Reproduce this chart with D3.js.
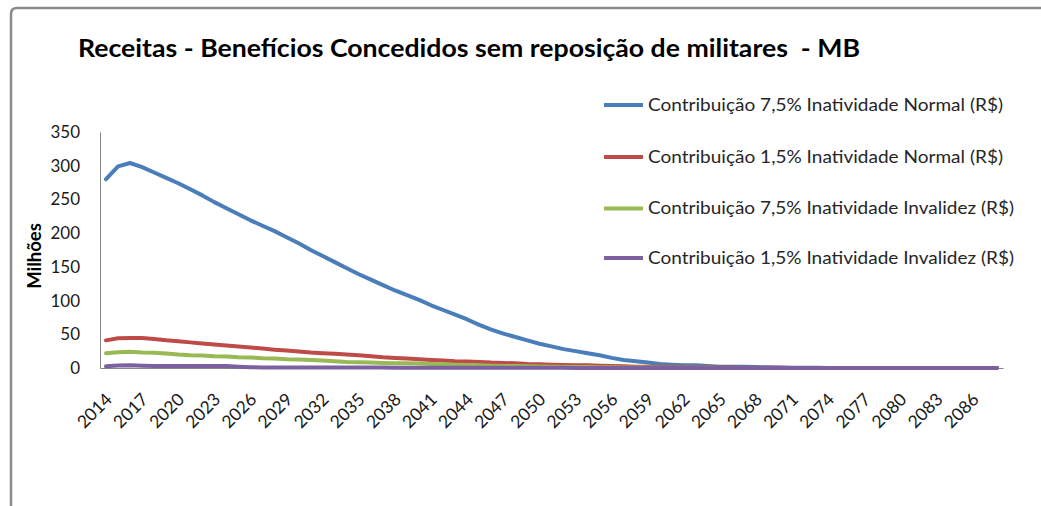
<!DOCTYPE html>
<html>
<head>
<meta charset="utf-8">
<script src="https://cdn.jsdelivr.net/npm/d3@7"></script>
<style>
  html, body { margin: 0; padding: 0; background: #fff; }
  svg { display: block; }
  text { font-family: Lato, "Open Sans", "Liberation Sans", sans-serif; }
</style>
</head>
<body>
<svg id="chart" width="1041" height="506"></svg>
<script>
// Years on the category axis
const years = d3.range(2014, 2089);

// Receitas (milhões de R$) por série
const contrib75Normal = [
  280, 299, 304, 298, 290, 282, 274, 265, 256, 246,
  237, 228, 219, 211, 203, 194, 185, 175, 166, 157,
  148, 139, 131, 123, 115, 108, 101, 93, 86, 79,
  72, 64, 57, 51, 46, 41, 36, 32, 28, 25,
  22, 19, 15, 12, 10, 8, 6, 5, 4, 4,
  3, 2, 2, 2, 1.5, 1, 0.8, 0.5, 0.3, 0.2,
  0.1, 0.1, 0, 0, 0, 0, 0, 0, 0, 0,
  0, 0, 0, 0, 0
];
const contrib15Normal = [
  41, 44, 44.5, 44.5, 43, 41, 39.5, 38, 36.5, 35,
  33.5, 32, 30.5, 29, 27, 26, 24.5, 23, 22, 21,
  20, 19, 17.5, 16, 15, 14, 13, 12, 11, 10,
  9.5, 9, 8, 7.5, 7, 6, 5.5, 5, 4.5, 4,
  4, 3.5, 3, 2.5, 2, 2, 1.5, 1.5, 1.2, 1,
  1, 0.8, 0.6, 0.5, 0.4, 0.3, 0.2, 0.1, 0.1, 0,
  0, 0, 0, 0, 0, 0, 0, 0, 0, 0,
  0, 0, 0, 0, 0
];
const contrib75Invalidez = [
  22, 23.5, 24, 23, 22.5, 21.5, 20, 19, 18.5, 17.5,
  17, 16, 15.5, 14.5, 14, 13, 12.5, 12, 11, 10,
  9, 8.5, 8, 7.5, 7, 7, 6.5, 6, 5.5, 5,
  4.5, 4, 3.5, 3, 2.8, 2.5, 2.2, 2, 1.8, 1.5,
  1.3, 1.2, 1, 0.8, 0.7, 0.6, 0.5, 0.4, 0.3, 0.2,
  0.2, 0.1, 0.1, 0, 0, 0, 0, 0, 0, 0,
  0, 0, 0, 0, 0, 0, 0, 0, 0, 0,
  0, 0, 0, 0, 0
];
const contrib15Invalidez = [
  2.5, 3.8, 4, 3.5, 3, 3, 3, 3, 3, 3,
  2.8, 2, 1, 0.9, 0.9, 0.8, 0.8, 0.8, 0.7, 0.7,
  0.7, 0.6, 0.6, 0.6, 0.5, 0.5, 0.5, 0.4, 0.4, 0.4,
  0.3, 0.3, 0.3, 0.3, 0.2, 0.2, 0.2, 0.2, 0.2, 0.1,
  0.1, 0.1, 0.1, 0.1, 0.1, 0, 0, 0, 0, 0,
  0, 0, 0, 0, 0, 0, 0, 0, 0, 0,
  0, 0, 0, 0, 0, 0, 0, 0, 0, 0,
  0, 0, 0, 0, 0
];

const seriesNames = [
  "Contribuição 7,5% Inatividade Normal (R$)",
  "Contribuição 1,5% Inatividade Normal (R$)",
  "Contribuição 7,5% Inatividade Invalidez (R$)",
  "Contribuição 1,5% Inatividade Invalidez (R$)"
];
const seriesColors = ["#4A7EBB", "#BE4B48", "#98B954", "#7D60A0"];
const seriesValues = [contrib75Normal, contrib15Normal, contrib75Invalidez, contrib15Invalidez];

const yTicks = [0, 50, 100, 150, 200, 250, 300, 350];
const xTickYears = years.filter(y => (y - 2014) % 3 === 0);

const titleText = "Receitas - Benefícios Concedidos sem reposição de militares  - MB";
const yAxisTitle = "Milhões";

const svg = d3.select("#chart");

// Outer frame
svg.append("path")
  .attr("d", "M11,506 L11,14 Q11,8 17,8 L1041,8")
  .attr("fill", "none")
  .attr("stroke", "#8c8c8c")
  .attr("stroke-width", 2.5);

// Title
svg.append("text")
  .attr("x", 78).attr("y", 57)
  .attr("font-size", 24).attr("font-weight", "bold")
  .attr("fill", "#000")
  .attr("textLength", 782).attr("lengthAdjust", "spacingAndGlyphs")
  .style("white-space", "pre")
  .text(titleText);

// Plot area
const plot = { left: 100, right: 1003, top: 132, bottom: 368 };

const x = d3.scalePoint()
  .domain(years)
  .range([plot.left, plot.right])
  .padding(0.5);

const y = d3.scaleLinear()
  .domain([0, 350])
  .range([plot.bottom, plot.top]);

// Y axis
const yAxis = svg.append("g")
  .attr("transform", `translate(${plot.left},0)`)
  .call(d3.axisLeft(y).tickValues(yTicks).tickSize(0).tickPadding(20));
yAxis.select(".domain").attr("stroke", "#868686").attr("stroke-width", 1);
yAxis.selectAll("text")
  .attr("font-size", 17)
  .attr("fill", "#1a1a1a")
  .style("font-family", "Lato, 'Open Sans', sans-serif");

// X axis
const xAxis = svg.append("g")
  .attr("transform", `translate(0,${plot.bottom})`)
  .call(d3.axisBottom(x).tickValues(xTickYears).tickSize(0).tickPadding(0));
xAxis.select(".domain").attr("stroke", "#868686").attr("stroke-width", 1);
xAxis.selectAll("text")
  .attr("font-size", 17.5)
  .attr("fill", "#1a1a1a")
  .attr("text-anchor", "end")
  .attr("dy", 0)
  .attr("transform", "translate(-3,23) rotate(-45)")
  .attr("y", 0).attr("x", 0)
  .attr("dominant-baseline", "hanging");

// Y axis title
svg.append("text")
  .attr("transform", "translate(41,256) rotate(-90)")
  .attr("text-anchor", "middle")
  .attr("font-size", 18.5)
  .attr("font-weight", "bold")
  .attr("fill", "#000")
  .text(yAxisTitle);

// Lines
const line = d3.line()
  .x((d, i) => x(years[i]))
  .y(d => y(d));

svg.append("g")
  .selectAll("path")
  .data(seriesValues)
  .join("path")
  .attr("d", d => line(d))
  .attr("fill", "none")
  .attr("stroke", (d, i) => seriesColors[i])
  .attr("stroke-width", 4)
  .attr("stroke-linejoin", "round")
  .attr("stroke-linecap", "round");

// Legend
const legendY = [105, 157, 208.5, 258];
const legend = svg.append("g");
seriesNames.forEach((name, i) => {
  legend.append("line")
    .attr("x1", 604).attr("x2", 643)
    .attr("y1", legendY[i]).attr("y2", legendY[i])
    .attr("stroke", seriesColors[i])
    .attr("stroke-width", 4);
  legend.append("text")
    .attr("x", 648).attr("y", legendY[i])
    .attr("dy", "0.35em")
    .attr("font-size", 16.5)
    .attr("fill", "#262626")
    .attr("textLength", i < 2 ? 355 : 366)
    .attr("lengthAdjust", "spacingAndGlyphs")
    .text(name);
});
</script>
</body>
</html>
